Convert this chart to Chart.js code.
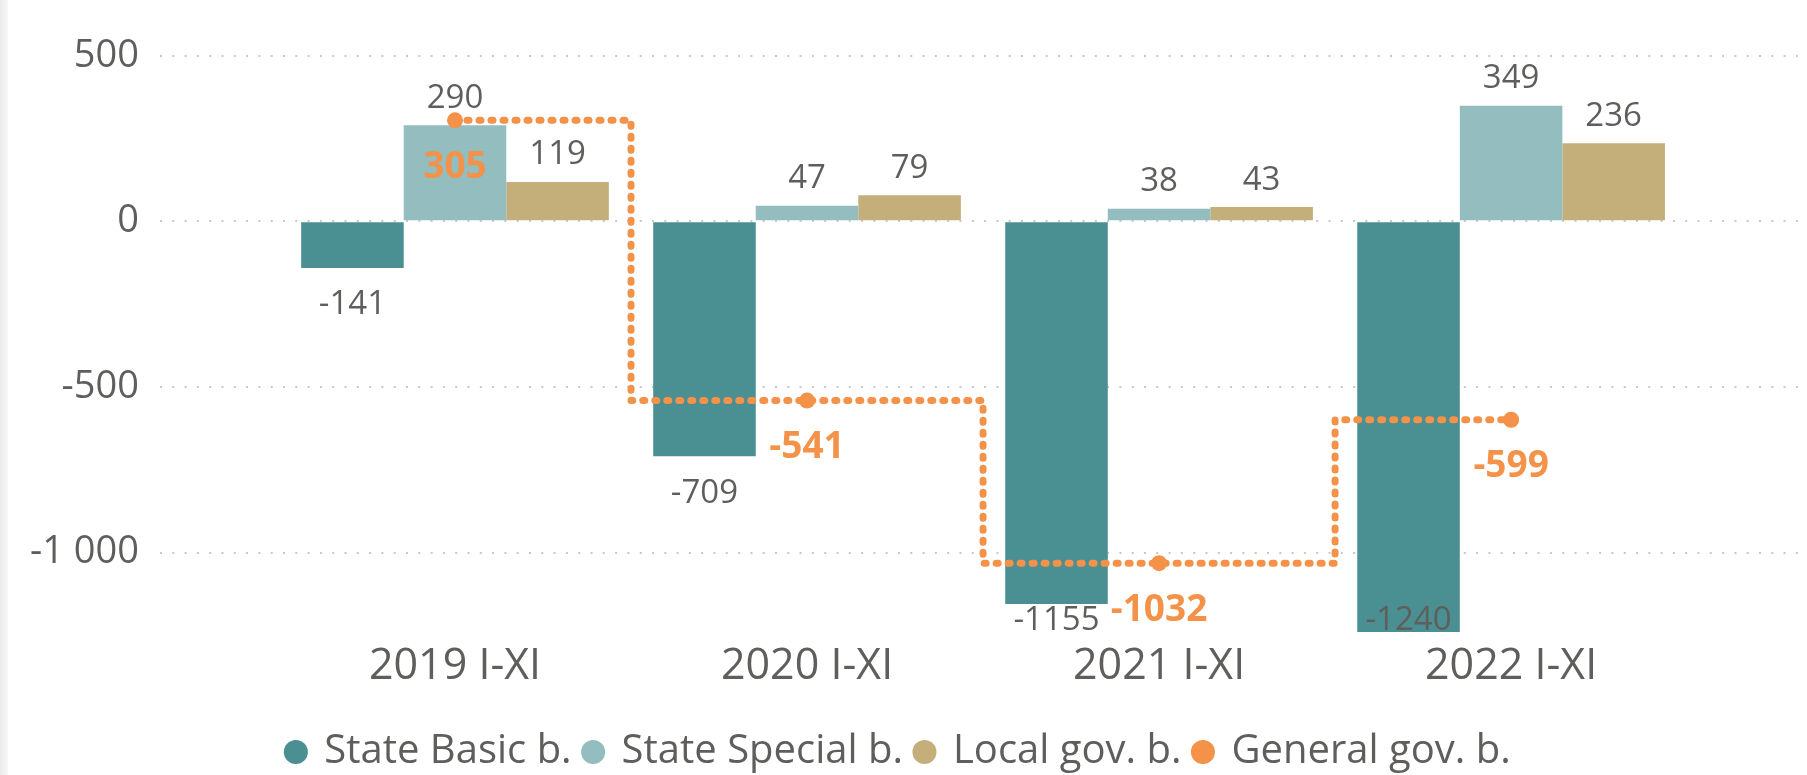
<!DOCTYPE html>
<html>
<head>
<meta charset="utf-8">
<script src="https://cdn.jsdelivr.net/npm/chart.js@4.4.0/dist/chart.umd.min.js"></script>
<style>
  html, body { margin: 0; padding: 0; background: #fff; }
  #wrap { position: relative; width: 1807px; height: 775px; }
  #edge { position: absolute; left: 0; top: 0; width: 8px; height: 100%; background: linear-gradient(to right, #ebebeb, #f8f8f8); }
</style>
</head>
<body>
<div id="wrap">
  <canvas id="chart" width="1807" height="775"></canvas>
  <div id="edge"></div>
</div>
<script>
// Budget balance, I-XI of each year
const categories = ['2019 I-XI', '2020 I-XI', '2021 I-XI', '2022 I-XI'];
const stateBasic = [-141, -709, -1155, -1240];
const stateSpecial = [290, 47, 38, 349];
const localGov = [119, 79, 43, 236];
const generalGov = [305, -541, -1032, -599];
const yTicks = [500, 0, -500, -1000];
const yTickLabels = ['500', '0', '-500', '-1 000'];

const FONT = "'Segoe UI', 'Open Sans', sans-serif";
const TEXT = '#605e5c';
const TEAL = '#4a8f92';
const LIGHT = '#93bdbe';
const TAN = '#c4af7b';
const ORANGE = '#f39248';

const toPoints = arr => arr.map((v, i) => ({ x: i, y: v }));

// value labels over bars and the line
const valueLabels = {
    id: 'valueLabels',
    afterDatasetsDraw(chart) {
        const ctx = chart.ctx;
        const bottom = chart.chartArea.bottom;
        ctx.save();
        ctx.textAlign = 'center';
        ctx.textBaseline = 'middle';
        chart.data.datasets.forEach((ds, di) => {
            const meta = chart.getDatasetMeta(di);
            meta.data.forEach((el, i) => {
                const v = ds.data[i].y;
                let y;
                if (ds.type === 'line') {
                    ctx.font = 'bold 37px ' + FONT;
                    ctx.fillStyle = ORANGE;
                    y = el.y + 47;
                } else {
                    ctx.font = '33px ' + FONT;
                    ctx.fillStyle = TEXT;
                    y = v >= 0 ? el.y - 27 : Math.min(el.y + 37, bottom - 22);
                }
                ctx.fillText(String(v), el.x, y);
            });
        });
        ctx.restore();
    }
};

const ctx = document.getElementById('chart');
new Chart(ctx, {
    type: 'bar',
    data: {
        datasets: [
            { label: 'State Basic b.', data: toPoints(stateBasic), backgroundColor: TEAL, order: 1 },
            { label: 'State Special b.', data: toPoints(stateSpecial), backgroundColor: LIGHT, order: 1 },
            { label: 'Local gov. b.', data: toPoints(localGov), backgroundColor: TAN, order: 1 },
            {
                type: 'line',
                label: 'General gov. b.',
                data: toPoints(generalGov),
                order: 0,
                stepped: 'middle',
                borderColor: ORANGE,
                backgroundColor: ORANGE,
                borderWidth: 7,
                borderDash: [2, 10],
                borderCapStyle: 'round',
                borderJoinStyle: 'round',
                pointRadius: 8,
                pointHoverRadius: 8,
                pointBackgroundColor: ORANGE,
                pointBorderWidth: 0
            }
        ]
    },
    options: {
        responsive: false,
        animation: false,
        layout: { padding: { top: 2, right: 9, left: 0, bottom: -7 } },
        datasets: {
            bar: { categoryPercentage: 0.874, barPercentage: 1, borderWidth: 0 }
        },
        scales: {
            x: {
                type: 'linear',
                offset: false,
                min: -0.838,
                max: 3.815,
                grid: { display: false, offset: false, drawTicks: false },
                border: { display: false },
                afterBuildTicks: s => { s.ticks = categories.map((c, i) => ({ value: i })); },
                afterFit: s => { s.height = 76; },
                ticks: {
                    callback: v => categories[v],
                    color: TEXT,
                    font: { family: FONT, size: 43 },
                    padding: -2,
                    autoSkip: false,
                    maxRotation: 0
                }
            },
            y: {
                min: -1273,
                max: 536,
                afterBuildTicks: s => { s.ticks = yTicks.map(v => ({ value: v })); },
                afterFit: s => { s.width = 160; },
                grid: { color: '#c8c8c8', lineWidth: 2, drawTicks: false },
                border: { display: false, dash: [2, 10.3] },
                ticks: {
                    callback: v => yTickLabels[yTicks.indexOf(v)],
                    color: TEXT,
                    font: { family: FONT, size: 38 },
                    padding: 21
                }
            }
        },
        plugins: {
            tooltip: { enabled: false },
            legend: {
                position: 'bottom',
                labels: {
                    color: TEXT,
                    font: { family: FONT, size: 40 },
                    usePointStyle: true,
                    boxWidth: 17,
                    boxHeight: 17,
                    padding: 13,
                    sort: (a, b) => a.datasetIndex - b.datasetIndex,
                    generateLabels: chart => {
                        const items = Chart.defaults.plugins.legend.labels.generateLabels(chart);
                        items.forEach(it => {
                            it.pointStyle = 'circle';
                            it.lineWidth = 0;
                            it.strokeStyle = 'rgba(0,0,0,0)';
                            it.lineDash = [];
                        });
                        return items;
                    }
                }
            }
        }
    },
    plugins: [valueLabels]
});
</script>
</body>
</html>
